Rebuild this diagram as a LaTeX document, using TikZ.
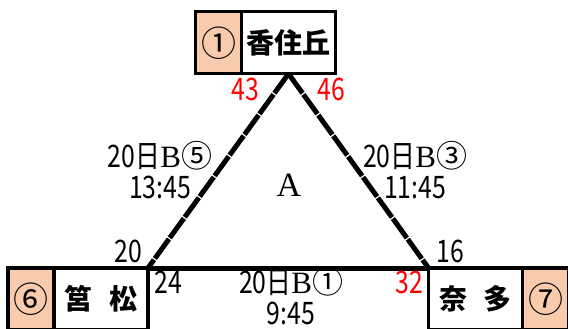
\documentclass[tikz,border=0pt]{standalone}
\usepackage{fontspec}
\usepackage{tikz}
\usetikzlibrary{positioning}
\newfontfamily\jpfont{Noto Sans CJK JP}
\newfontfamily\jpnarrow[FakeStretch=0.8]{Noto Sans CJK JP}
\newfontfamily\romfont{Liberation Serif}
\definecolor{cellorange}{RGB}{248,203,173}
\tikzset{
  cell/.style={draw, line width=3.5pt, inner sep=0pt, outer sep=0pt, minimum height=62pt},
  numcell/.style={cell, fill=cellorange, minimum width=46pt, font=\jpfont\fontsize{35}{35}\selectfont},
  namecell/.style={cell, fill=white, minimum width=94pt, font=\jpfont\bfseries\fontsize{28}{28}\selectfont},
  side/.style={line width=5pt, dash pattern=on 24pt off 1.5pt},
  base/.style={line width=5pt},
  endno/.style={font=\jpnarrow\fontsize{31}{31}\selectfont, inner sep=0pt},
  redno/.style={endno, text=red},
  trip/.style={font=\jpnarrow\fontsize{31}{31}\selectfont, align=center, inner sep=0pt}
}
\begin{document}
\begin{tikzpicture}[x=1pt, y=-1pt]
    \clip (0,0) rectangle (568,329);
    \fill[white] (0,0) rectangle (568,329);
    \node[numcell] (n1) at (218.5,42.75) {①};
    \node[namecell, right=0pt of n1] (kasumi) {香住丘};
    \node[numcell] (n6) at (31,299) {⑥};
    \node[namecell, right=0pt of n6] (hako) {筥\hspace{0.6em}松};
    \node[namecell] (nata) at (475.5,299) {奈\hspace{0.6em}多};
    \node[numcell, right=0pt of nata] (n7) {⑦};
    \draw[side] (kasumi.south) -- (hako.north east);
    \draw[side] (kasumi.south) -- (nata.north west);
    \draw[base] (hako.north east) -- (nata.north west);
    \node[redno] (p43) at (245,89) {43};
    \node[redno] (p46) at (331,89) {46};
    \node[endno] (p20) at (128,251) {20};
    \node[endno] (p16) at (450,251) {16};
    \node[endno] (p24) at (168,282) {24};
    \node[redno] (p32) at (409,282) {32};
    \node[trip] (t5) at (160,170) {20日{\romfont B}{\jpfont ⑤}\\13:45};
    \node[trip] (t3) at (415,170) {20日{\romfont B}{\jpfont ③}\\11:45};
    \node[trip] (t1) at (291,296) {20日{\romfont B}{\jpfont ①}\\9:45};
    \node[font=\romfont\fontsize{34}{34}\selectfont] (area) at (289,185) {A};
\end{tikzpicture}
\end{document}
